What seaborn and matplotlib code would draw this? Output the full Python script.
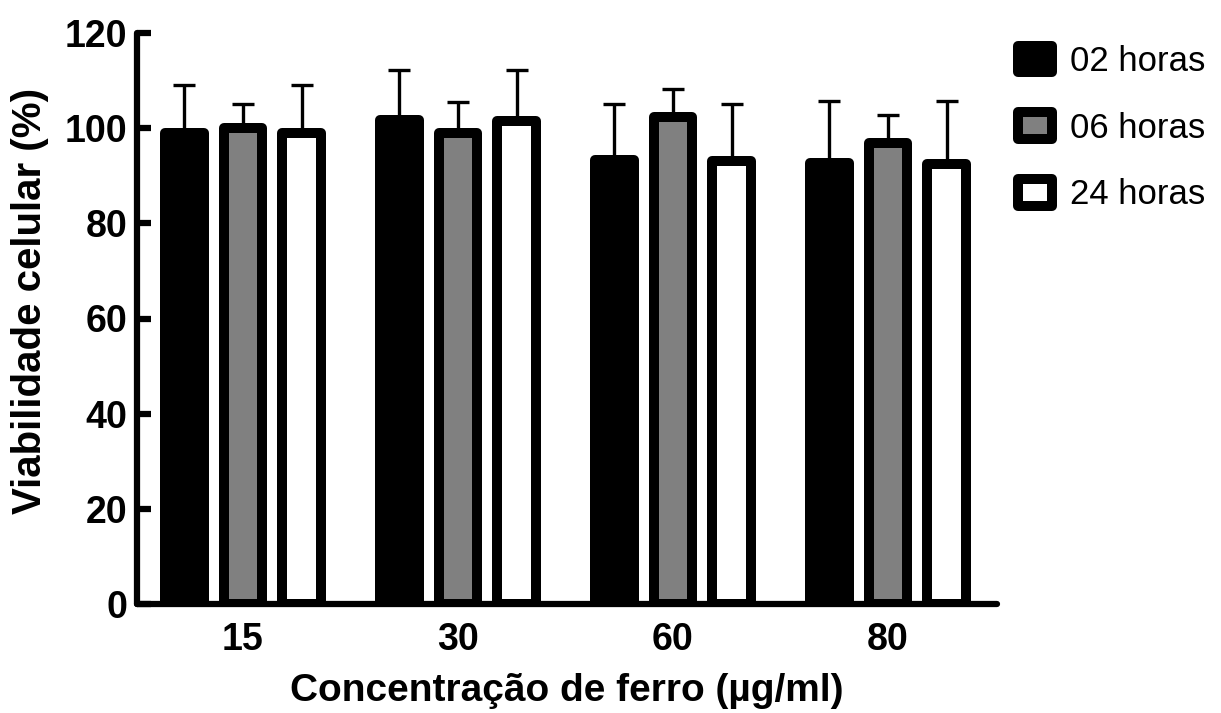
import numpy as np
import pandas as pd
import matplotlib
matplotlib.use("Agg")
import matplotlib.pyplot as plt
import seaborn as sns

# Iron concentration groups and incubation times
concentrations = ["15", "30", "60", "80"]
times = ["02 horas", "06 horas", "24 horas"]

# Mean cell viability (%) per time, one value per concentration
viab_02h = [99.0, 101.7, 93.3, 92.6]
viab_06h = [100.0, 98.9, 102.3, 96.9]
viab_24h = [99.0, 101.5, 93.1, 92.4]

# Upper error (SD) per time
err_02h = [10.1, 10.6, 11.8, 13.1]
err_06h = [5.0, 6.6, 6.0, 5.9]
err_24h = [10.1, 10.8, 12.0, 13.3]

yticks = [0, 20, 40, 60, 80, 100, 120]

means = [viab_02h, viab_06h, viab_24h]
errs = [err_02h, err_06h, err_24h]
df = pd.DataFrame({
    "conc": [c for _ in times for c in concentrations],
    "time": [t for t in times for _ in concentrations],
    "viab": [v for series in means for v in series],
})

sns.set_theme(style="ticks")
plt.rcParams["font.family"] = ["Liberation Sans", "DejaVu Sans"]
plt.rcParams["text.color"] = "black"

fig = plt.figure(figsize=(12.21, 7.13), dpi=100)
ax = fig.add_axes([137 / 1221, 1 - 604 / 713, (997 - 137) / 1221, (604 - 33) / 713])

EDGE_LW = 7.2
sns.barplot(
    data=df, x="conc", y="viab", hue="time",
    order=concentrations, hue_order=times,
    palette=["#000000", "#808080", "#ffffff"],
    edgecolor="black", linewidth=EDGE_LW,
    width=0.82, gap=0.34, errorbar=None, saturation=1,
    ax=ax,
)
for p in ax.patches:
    p.set_joinstyle("round")

# Upper-only error bars placed on the bar centres
bars = [p for p in ax.patches if p.get_height() > 0]
for i, t in enumerate(times):
    sub = bars[i * len(concentrations):(i + 1) * len(concentrations)]
    xs = [b.get_x() + b.get_width() / 2 for b in sub]
    ax.errorbar(xs, means[i], yerr=[np.zeros(len(xs)), errs[i]], fmt="none",
                ecolor="black", elinewidth=2.4, capsize=8, capthick=2.4, zorder=3)

ax.set_ylim(0, 120)
ax.set_xlim(-0.493, 3.507)
ax.set_yticks(yticks)

for side in ["top", "right"]:
    ax.spines[side].set_visible(False)
for side in ["left", "bottom"]:
    ax.spines[side].set_linewidth(4.5)
    ax.spines[side].set_color("black")
    ax.spines[side].set_capstyle("round")

ax.tick_params(axis="y", direction="in", length=10, width=4.5, pad=7,
               labelsize=27, colors="black")
ax.tick_params(axis="x", direction="in", length=10, width=4.5, pad=13,
               labelsize=27, colors="black")
for lab in ax.get_xticklabels() + ax.get_yticklabels():
    lab.set_fontweight("bold")
for line in ax.xaxis.get_ticklines() + ax.yaxis.get_ticklines():
    line.set_solid_capstyle("round")

ax.set_xlabel("Concentração de ferro (µg/ml)", fontsize=28, fontweight="bold",
              labelpad=11, color="black")
ax.set_ylabel("Viabilidade celular (%)", fontsize=29, fontweight="bold",
              color="black")
ax.yaxis.set_label_coords(-0.102, 0.531)

handles, labels = ax.get_legend_handles_labels()
leg = ax.legend(handles, labels, loc="upper left",
                bbox_to_anchor=(1018 / 1221, 1 - 45 / 713),
                bbox_transform=fig.transFigure, frameon=False,
                fontsize=25, handlelength=0.98, handleheight=0.8,
                handletextpad=0.52, labelspacing=0.97,
                borderpad=0, borderaxespad=0)
for txt in leg.get_texts():
    txt.set_color("black")
for h in leg.legend_handles:
    h.set_linewidth(EDGE_LW)
    h.set_edgecolor("black")
    h.set_joinstyle("round")

fig.savefig("out.png", dpi=100, facecolor="white")
